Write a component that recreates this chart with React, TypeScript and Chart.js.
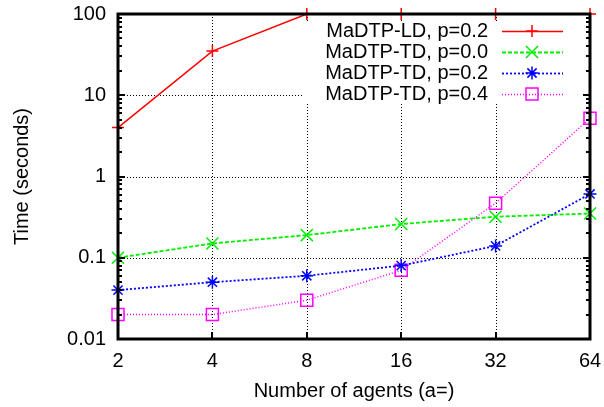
import React, { useEffect, useRef } from 'react';
import { Chart, registerables } from 'chart.js';
import { drawPoint } from 'chart.js/helpers';

Chart.register(...registerables);

const agentLabels = ['2', '4', '8', '16', '32', '64'];
const ldP02 = [4, 35, 100, 100, 100, 100];
const tdP00 = [0.1, 0.15, 0.19, 0.26, 0.32, 0.35];
const tdP02 = [0.04, 0.05, 0.06, 0.08, 0.14, 0.61];
const tdP04 = [0.02, 0.02, 0.03, 0.07, 0.47, 5.2];
const yMajorTicks = [0.01, 0.1, 1, 10, 100];
const seriesNames = ['MaDTP-LD, p=0.2', 'MaDTP-TD, p=0.0', 'MaDTP-TD, p=0.2', 'MaDTP-TD, p=0.4'];
const xTitle = 'Number of agents (a=)';
const yTitle = 'Time (seconds)';

const FONT = '"Liberation Sans", Arial, sans-serif';

const gnuplotPlugin = {
  id: 'gnuplotDeco',
  beforeDatasetsDraw(chart: any) {
    const { ctx, chartArea: a, scales } = chart;
    const xs = scales.x, ys = scales.y;
    ctx.save();
    ctx.strokeStyle = '#000';
    ctx.lineWidth = 1;
    ctx.setLineDash([1, 2]);
    for (let i = 1; i < agentLabels.length - 1; i++) {
      const px = Math.round(xs.getPixelForValue(i)) + 0.5;
      ctx.beginPath();
      ctx.moveTo(px, a.top);
      ctx.lineTo(px, a.bottom);
      ctx.stroke();
    }
    for (let i = 1; i < yMajorTicks.length - 1; i++) {
      const py = Math.round(ys.getPixelForValue(yMajorTicks[i])) + 0.5;
      ctx.beginPath();
      ctx.moveTo(a.left, py);
      ctx.lineTo(a.right, py);
      ctx.stroke();
    }
    // opaque key box
    ctx.setLineDash([]);
    ctx.fillStyle = '#fff';
    ctx.fillRect(304, 21, 280, 83);
    ctx.restore();
  },
  afterDatasetsDraw(chart: any) {
    const { ctx, chartArea: a, scales } = chart;
    const xs = scales.x, ys = scales.y;
    ctx.save();
    ctx.setLineDash([]);
    ctx.strokeStyle = '#000';
    ctx.lineWidth = 2;
    const tick = (x1: number, y1: number, x2: number, y2: number) => {
      ctx.beginPath();
      ctx.moveTo(x1, y1);
      ctx.lineTo(x2, y2);
      ctx.stroke();
    };
    for (let i = 0; i < agentLabels.length; i++) {
      const px = Math.round(xs.getPixelForValue(i));
      tick(px, a.bottom, px, a.bottom - 7);
    }
    for (let d = 0; d < yMajorTicks.length; d++) {
      const v = yMajorTicks[d];
      const py = Math.round(ys.getPixelForValue(v));
      tick(a.left, py, a.left + 7, py);
      tick(a.right, py, a.right - 7, py);
      if (d < yMajorTicks.length - 1) {
        for (let k = 2; k <= 9; k++) {
          const my = Math.round(ys.getPixelForValue(v * k));
          tick(a.left, my, a.left + 4, my);
          tick(a.right, my, a.right - 4, my);
        }
      }
    }
    ctx.lineWidth = 3;
    ctx.strokeRect(a.left, a.top, a.right - a.left, a.bottom - a.top);

    // key entries
    const rowY = [31, 52, 73, 94];
    ctx.font = '20px ' + FONT;
    ctx.textAlign = 'right';
    ctx.textBaseline = 'middle';
    chart.data.datasets.forEach((ds: any, i: number) => {
      const y = rowY[i];
      ctx.fillStyle = '#000';
      ctx.fillText(seriesNames[i], 488, y);
      ctx.strokeStyle = ds.borderColor;
      ctx.lineWidth = ds.borderWidth;
      ctx.setLineDash(ds.borderDash || []);
      ctx.beginPath();
      ctx.moveTo(502, y + 0.5);
      ctx.lineTo(563, y + 0.5);
      ctx.stroke();
      ctx.setLineDash([]);
      ctx.lineWidth = ds.pointBorderWidth;
      ctx.fillStyle = 'rgba(0,0,0,0)';
      drawPoint(ctx, { pointStyle: ds.pointStyle, radius: ds.pointRadius, rotation: 0, borderWidth: ds.pointBorderWidth }, 532, y);
    });

    ctx.fillStyle = '#000';
    ctx.textAlign = 'center';
    ctx.textBaseline = 'middle';
    ctx.fillText(xTitle, (a.left + a.right) / 2, 391);
    ctx.translate(22, (a.top + a.bottom) / 2);
    ctx.rotate(-Math.PI / 2);
    ctx.fillText(yTitle, 0, 0);
    ctx.restore();
  },
};

export default function App() {
  const ref = useRef<HTMLCanvasElement>(null);
  useEffect(() => {
    document.body.style.margin = '0';
    const canvas = ref.current!;
    const mk = (data: number[], color: string, dash: number[], width: number, style: string, radius: number) => ({
      data,
      borderColor: color,
      backgroundColor: 'rgba(0,0,0,0)',
      borderWidth: width,
      borderDash: dash,
      pointStyle: style,
      pointRadius: radius,
      pointBorderColor: color,
      pointBackgroundColor: 'rgba(0,0,0,0)',
      pointBorderWidth: 1.5,
      tension: 0,
      fill: false,
      clip: false as any,
    });
    const chart = new Chart(canvas, {
      type: 'line',
      data: {
        labels: agentLabels,
        datasets: [
          mk(ldP02, '#ff0000', [], 1.5, 'cross', 6),
          mk(tdP00, '#00ee00', [4, 2], 1.8, 'crossRot', 8.5),
          mk(tdP02, '#0000ff', [2, 2], 1.8, 'star', 6.5),
          mk(tdP04, '#ff00ff', [1, 2], 1.5, 'rect', 8.5),
        ] as any,
      },
      options: {
        animation: false,
        responsive: false,
        devicePixelRatio: 1,
        layout: { padding: { top: 14, right: 14, left: 0, bottom: 0 } },
        plugins: { legend: { display: false }, tooltip: { enabled: false } },
        scales: {
          x: {
            type: 'category',
            offset: false,
            grid: { display: false, drawTicks: false },
            border: { display: false },
            ticks: { color: '#000', font: { family: FONT, size: 20 }, padding: 10, autoSkip: false, maxRotation: 0 },
            afterFit: (s: any) => { s.height = 68; s.paddingLeft = 0; s.paddingRight = 0; },
          },
          y: {
            type: 'logarithmic',
            min: 0.01,
            max: 100,
            grid: { display: false, drawTicks: false },
            border: { display: false },
            afterBuildTicks: (s: any) => { s.ticks = yMajorTicks.map((v) => ({ value: v })); },
            ticks: {
              color: '#000',
              font: { family: FONT, size: 20 },
              padding: 12,
              autoSkip: false,
              callback: (v: any) => String(v),
            },
            afterFit: (s: any) => { s.width = 118; s.paddingTop = 0; s.paddingBottom = 0; },
          },
        },
      },
      plugins: [gnuplotPlugin],
    });
    return () => chart.destroy();
  }, []);
  return <canvas ref={ref} width={604} height={407} style={{ display: 'block' }} />;
}
